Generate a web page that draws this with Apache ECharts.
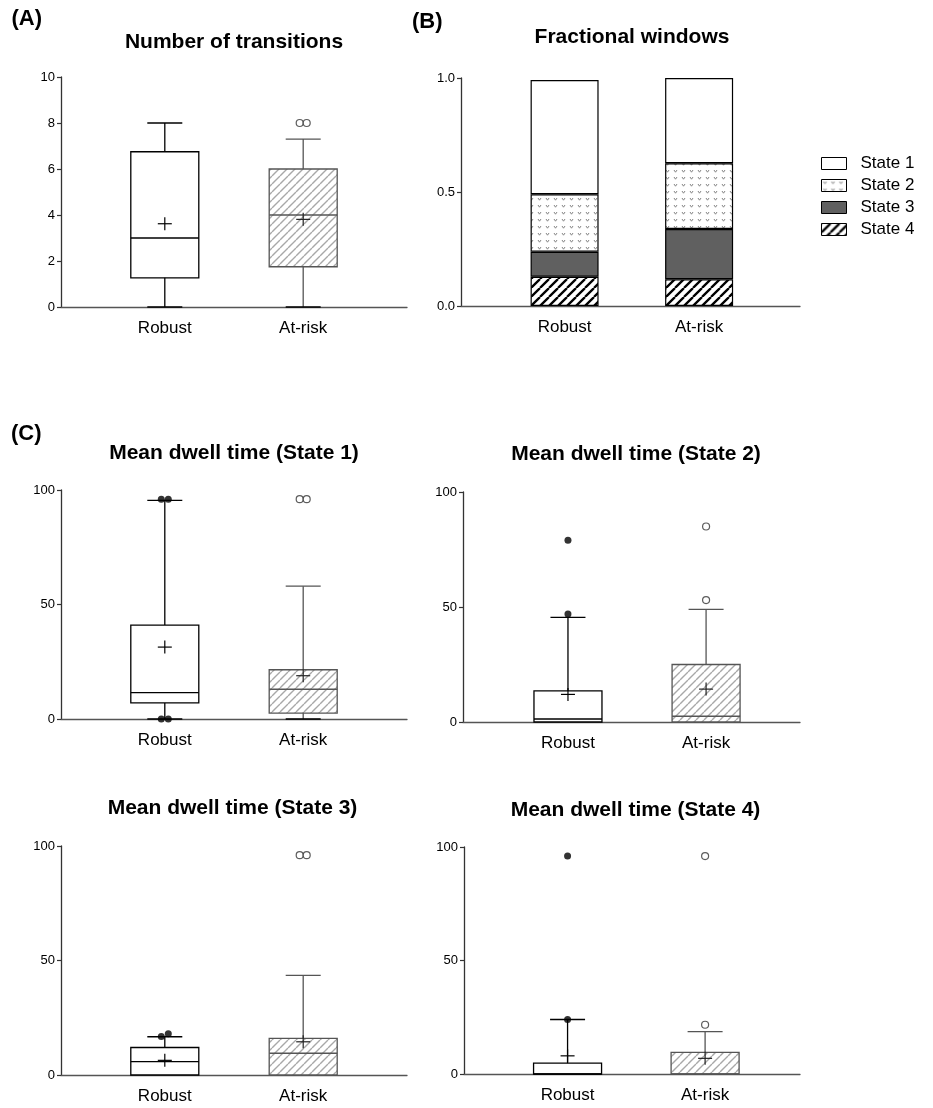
<!DOCTYPE html>
<html><head><meta charset="utf-8">
<script src="https://cdn.jsdelivr.net/npm/echarts@6/dist/echarts.min.js"></script>
<style>html,body{margin:0;padding:0;background:#fff}#c{width:933px;height:1108px}</style>
</head><body><div id="c"></div>
<script>
// ---------- data ----------
const categories = ['Robust', 'At-risk'];

// Panel A: number of transitions  [min, Q1, median, Q3, max]
const transBox = [[0, 1.27, 3.0, 6.75, 8.0], [0, 1.75, 4.0, 6.0, 7.3]];
const transMean = [3.62, 3.81];
const transOut = [[], [8, 8]];
const transTicks = [0, 2, 4, 6, 8, 10];

// Panel B: fractional windows
const fracStates = ['State 1', 'State 2', 'State 3', 'State 4'];
const fracState1 = [0.501, 0.374];
const fracState2 = [0.252, 0.288];
const fracState3 = [0.110, 0.221];
const fracState4 = [0.128, 0.117];
const fracTicks = [0, 0.5, 1.0];

// Panel C: mean dwell time
const dwellTicks = [0, 50, 100];
const dwell1Box = [[0, 7.0, 11.5, 41.0, 95.5], [0, 2.6, 13.0, 21.5, 58.0]];
const dwell1Mean = [31.4, 18.9];
const dwell1Out = [[96, 96, 0, 0], [96, 96]];

const dwell2Box = [[0, 0, 1.3, 13.5, 45.5], [0, 0, 2.5, 25.0, 49.0]];
const dwell2Mean = [12.0, 14.3];
const dwell2Out = [[79, 47], [85, 53]];

const dwell3Box = [[0, 0, 5.8, 12.0, 16.7], [0, 0, 9.5, 16.0, 43.5]];
const dwell3Mean = [6.4, 14.5];
const dwell3Out = [[16.8, 18], [96, 96]];

const dwell4Box = [[0, 0, 0, 4.8, 24.0], [0, 0, 0, 9.5, 18.7]];
const dwell4Mean = [8.0, 6.9];
const dwell4Out = [[96, 24], [96, 21.7]];

// ---------- patterns ----------
function makeHatch(tile, lw, color) {
  const c = document.createElement('canvas');
  c.width = tile; c.height = tile;
  const ctx = c.getContext('2d');
  ctx.fillStyle = '#fff'; ctx.fillRect(0, 0, tile, tile);
  ctx.strokeStyle = color; ctx.lineWidth = lw;
  ctx.beginPath();
  for (const o of [-tile, 0, tile]) { ctx.moveTo(o, tile); ctx.lineTo(o + tile, 0); }
  ctx.stroke();
  return c;
}
function makeStipple() {
  const c = document.createElement('canvas');
  c.width = 8; c.height = 7;
  const ctx = c.getContext('2d');
  ctx.fillStyle = '#fff'; ctx.fillRect(0, 0, 8, 7);
  ctx.strokeStyle = '#858585'; ctx.lineWidth = 1;
  ctx.beginPath(); ctx.moveTo(2, 2); ctx.lineTo(3.5, 4.2); ctx.lineTo(5, 2); ctx.stroke();
  return c;
}
const greyHatch = { image: makeHatch(8, 1.4, '#a8a8a8'), repeat: 'repeat' };
const blackHatch = { image: makeHatch(9, 2.3, '#000'), repeat: 'repeat' };
const stipple = { image: makeStipple(), repeat: 'repeat' };

const FONT = '"Liberation Sans", Arial, Helvetica, sans-serif';

// ---------- layout ----------
const grids = [
  { left: 61, top: 77, width: 346, height: 230, xmin: 0.25, xmax: 2.75, ticks: transTicks },
  { left: 461, top: 78, width: 339, height: 228, xmin: 0.23, xmax: 2.75, ticks: fracTicks },
  { left: 61, top: 490, width: 346, height: 229, xmin: 0.25, xmax: 2.75, ticks: dwellTicks },
  { left: 463, top: 492, width: 337, height: 230, xmin: 0.24, xmax: 2.68, ticks: dwellTicks },
  { left: 61, top: 846, width: 346, height: 229, xmin: 0.25, xmax: 2.75, ticks: dwellTicks },
  { left: 464, top: 847, width: 336, height: 227, xmin: 0.247, xmax: 2.69, ticks: dwellTicks }
];

function boxRender(params, api) {
  const x = api.value(0);
  const v = [1, 2, 3, 4, 5].map(i => api.value(i));
  const mean = api.value(6);
  const g = api.value(7);
  const stroke = g ? '#555' : '#000';
  const P = t => api.coord([x, t]);
  const cx = P(v[0])[0];
  const y = v.map(t => P(t)[1]);
  const ym = P(mean)[1];
  const hw = 34, hc = 17.5, hx = 7, hy = 6.5;
  const ls = { stroke: stroke, lineWidth: 1.3, fill: null };
  const ch = [];
  ch.push({ type: 'rect', shape: { x: cx - hw, y: y[3], width: 2 * hw, height: y[1] - y[3] },
    style: { fill: g ? greyHatch : '#fff', stroke: stroke, lineWidth: 1.3 } });
  ch.push({ type: 'line', shape: { x1: cx - hw, y1: y[2], x2: cx + hw, y2: y[2] }, style: ls });
  if (v[4] > v[3]) {
    ch.push({ type: 'line', shape: { x1: cx, y1: y[3], x2: cx, y2: y[4] }, style: ls });
    ch.push({ type: 'line', shape: { x1: cx - hc, y1: y[4], x2: cx + hc, y2: y[4] }, style: ls });
  }
  if (v[0] < v[1]) {
    ch.push({ type: 'line', shape: { x1: cx, y1: y[1], x2: cx, y2: y[0] }, style: ls });
    ch.push({ type: 'line', shape: { x1: cx - hc, y1: y[0], x2: cx + hc, y2: y[0] }, style: { stroke: '#000', lineWidth: 1.3 } });
  }
  const cs = { stroke: g ? '#222' : '#000', lineWidth: 1.2 };
  ch.push({ type: 'line', shape: { x1: cx - hx, y1: ym, x2: cx + hx, y2: ym }, style: cs });
  ch.push({ type: 'line', shape: { x1: cx, y1: ym - hy, x2: cx, y2: ym + hy }, style: cs });
  return { type: 'group', children: ch };
}

function boxSeries(gi, box, mean) {
  return {
    type: 'custom', xAxisIndex: gi, yAxisIndex: gi, silent: true, clip: false,
    renderItem: boxRender,
    encode: { x: 0, y: [1, 2, 3, 4, 5] },
    data: box.map((b, i) => [i + 1].concat(b, [mean[i], i]))
  };
}

function outlierSeries(gi, out, ymax) {
  const data = [];
  out.forEach((list, ci) => {
    // group values that would overlap, spread them side by side
    const clusters = [];
    list.forEach(v => {
      const last = clusters[clusters.length - 1];
      if (last && Math.abs(last[last.length - 1] - v) < 0.03 * ymax) last.push(v);
      else clusters.push([v]);
    });
    clusters.forEach(cl => cl.forEach((v, k) => {
      const dx = (k - (cl.length - 1) / 2) * 7;
      data.push({
        value: [ci + 1, v], symbolOffset: [dx, 0],
        itemStyle: ci === 0 ? { color: '#000', borderWidth: 0 } : { color: '#fff', borderColor: '#333', borderWidth: 1.2 }
      });
    }));
  });
  return { type: 'scatter', xAxisIndex: gi, yAxisIndex: gi, silent: true, symbol: 'circle', symbolSize: 7, z: 5, data: data };
}

const xAxes = grids.map((g, i) => ({
  type: 'value', gridIndex: i, min: g.xmin, max: g.xmax,
  axisLine: { show: true, onZero: false, lineStyle: { color: '#555', width: 1.3 } },
  axisTick: { show: false }, splitLine: { show: false },
  axisLabel: { customValues: [1, 2], formatter: v => categories[Math.round(v) - 1] || '',
    fontSize: 17, margin: 13, color: '#000', fontFamily: FONT }
}));
const yAxes = grids.map((g, i) => ({
  type: 'value', gridIndex: i, min: g.ticks[0], max: g.ticks[g.ticks.length - 1],
  interval: g.ticks[1] - g.ticks[0],
  axisLine: { show: true, onZero: false, lineStyle: { color: '#333', width: 1.3 } },
  axisTick: { show: true, length: 4, lineStyle: { color: '#333', width: 1.2 } },
  splitLine: { show: false },
  axisLabel: { fontSize: 13, margin: 6, color: '#000', fontFamily: FONT,
    formatter: v => (i === 1 ? v.toFixed(1) : String(v)) }
}));

// value column first so that the stack is applied on the y (value) dimension
function barSeries(name, vals, color) {
  return {
    name: name, type: 'bar', xAxisIndex: 1, yAxisIndex: 1, stack: 'frac', barWidth: 68, silent: true,
    encode: { x: 1, y: 0 },
    itemStyle: { color: color, borderColor: '#000', borderWidth: 1.2 },
    data: vals.map((v, i) => [v, i + 1])
  };
}

const txt = (x, y, text, size, align) => ({
  type: 'text', x: x, y: y, silent: true,
  style: { text: text, font: 'bold ' + size + 'px ' + FONT, fill: '#000', textAlign: align || 'center', textVerticalAlign: 'middle' }
});

const option = {
  animation: false,
  backgroundColor: '#fff',
  grid: grids.map(g => ({ left: g.left, top: g.top, width: g.width, height: g.height, containLabel: false })),
  xAxis: xAxes,
  yAxis: yAxes,
  legend: {
    data: fracStates, orient: 'vertical', left: 821, top: 155, padding: 0,
    itemWidth: 25, itemHeight: 12, itemGap: 5, icon: 'rect', selectedMode: false,
    itemStyle: { borderWidth: 1, borderColor: '#000' },
    textStyle: { fontSize: 17, color: '#000', fontFamily: FONT, padding: [0, 0, 0, 9] }
  },
  graphic: [
    txt(11.5, 19, '(A)', 22, 'left'),
    txt(234, 42.5, 'Number of transitions', 21),
    txt(412, 22, '(B)', 22, 'left'),
    txt(632, 37.5, 'Fractional windows', 21),
    txt(11, 434, '(C)', 22, 'left'),
    txt(234, 453.5, 'Mean dwell time (State 1)', 21),
    txt(636, 454, 'Mean dwell time (State 2)', 21),
    txt(232.5, 808.5, 'Mean dwell time (State 3)', 21),
    txt(635.5, 810, 'Mean dwell time (State 4)', 21)
  ],
  series: [
    boxSeries(0, transBox, transMean),
    outlierSeries(0, transOut, 10),
    barSeries('State 4', fracState4, blackHatch),
    barSeries('State 3', fracState3, '#606060'),
    barSeries('State 2', fracState2, stipple),
    barSeries('State 1', fracState1, '#fff'),
    boxSeries(2, dwell1Box, dwell1Mean),
    outlierSeries(2, dwell1Out, 100),
    boxSeries(3, dwell2Box, dwell2Mean),
    outlierSeries(3, dwell2Out, 100),
    boxSeries(4, dwell3Box, dwell3Mean),
    outlierSeries(4, dwell3Out, 100),
    boxSeries(5, dwell4Box, dwell4Mean),
    outlierSeries(5, dwell4Out, 100)
  ]
};

const chart = echarts.init(document.getElementById('c'));
chart.setOption(option);
</script></body></html>
